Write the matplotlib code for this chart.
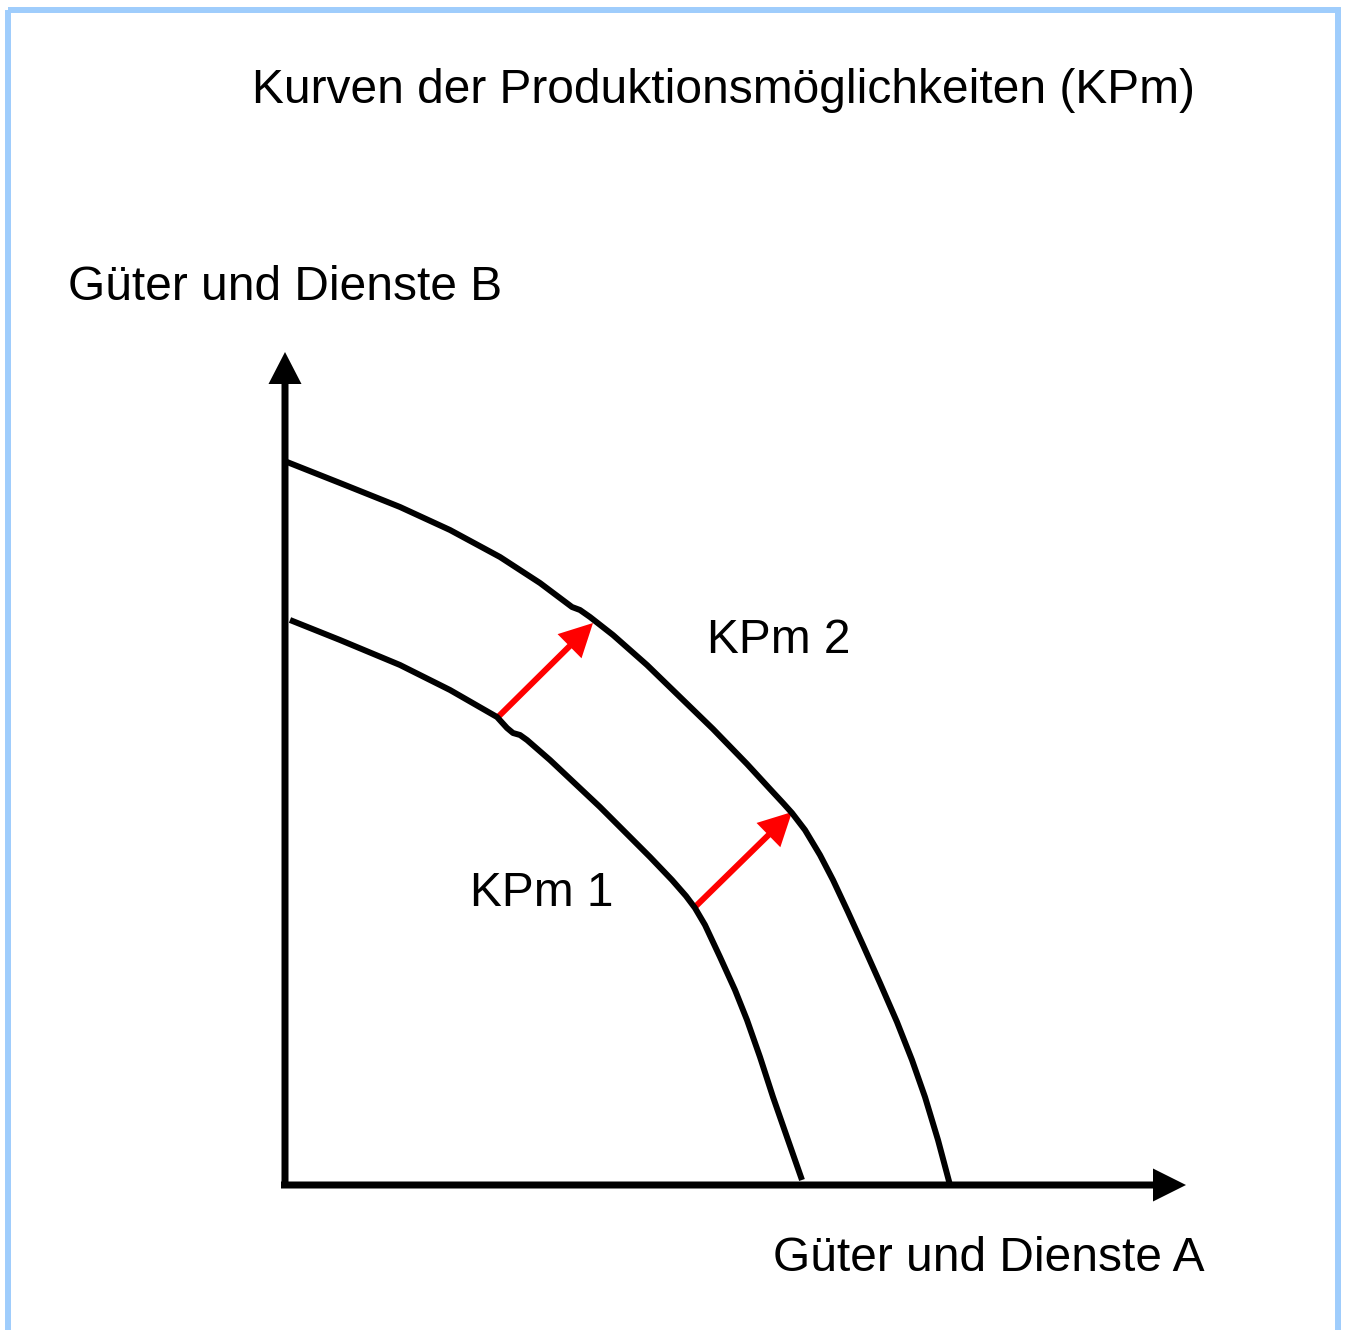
import matplotlib.pyplot as plt
from matplotlib.patches import Rectangle

plt.rcParams['font.family'] = ['Liberation Sans', 'DejaVu Sans']

# canvas in pixel units (y grows downward)
W, H = 1346, 1330

# production possibility curves, traced points
kpm2_x = [287, 340, 400, 450, 500, 540, 560, 572, 580, 590, 613, 647, 680,
          713, 747, 770, 783, 792, 805, 820, 833, 848, 863, 880, 897, 912,
          925, 938, 950]
kpm2_y = [462, 483, 507, 530, 557, 583, 598, 607, 610, 617, 635, 665, 697,
          729, 764, 789, 803, 813, 830, 855, 880, 912, 945, 983, 1022, 1060,
          1097, 1140, 1185]

kpm1_x = [290, 340, 400, 450, 497, 507, 513, 520, 527, 550, 600, 650, 672,
          686, 695, 705, 720, 735, 747, 760, 773, 788, 802]
kpm1_y = [620, 640, 665, 690, 717, 728, 733, 735, 740, 760, 807, 857, 880,
          896, 908, 925, 957, 990, 1020, 1057, 1097, 1140, 1180]

# shift arrows: (start, end)
shift_arrows = [((497, 718), (593, 623)),
                ((695, 907), (792, 812))]

origin = (285, 1185)
y_axis_top = 352
x_axis_end = 1186

title = 'Kurven der Produktionsmöglichkeiten (KPm)'
ylabel = 'Güter und Dienste B'
xlabel = 'Güter und Dienste A'
curve_labels = [('KPm 2', 707, 653), ('KPm 1', 470, 906)]

fig = plt.figure(figsize=(W / 100, H / 100), dpi=100)
ax = fig.add_axes([0, 0, 1, 1])
ax.set_xlim(0, W)
ax.set_ylim(H, 0)
ax.axis('off')

# light blue frame
ax.add_patch(Rectangle((8, 10), 1330, 1340, fill=False,
                       edgecolor='#9fcdfc', linewidth=4.3))

# axes with arrow heads
x0, y0 = origin
ax.arrow(x0, y0 + 3, 0, y_axis_top - y0 - 3, width=7, head_width=33,
         head_length=32, length_includes_head=True, color='black', lw=0)
ax.arrow(x0 - 4, y0, x_axis_end - x0 + 4, 0, width=7, head_width=33,
         head_length=33, length_includes_head=True, color='black', lw=0)

ax.plot(kpm2_x, kpm2_y, color='black', lw=4.3, solid_capstyle='butt',
        solid_joinstyle='round')
ax.plot(kpm1_x, kpm1_y, color='black', lw=4.3, solid_capstyle='butt',
        solid_joinstyle='round')

for (sx, sy), (ex, ey) in shift_arrows:
    ax.arrow(sx, sy, ex - sx, ey - sy, width=6, head_width=34,
             head_length=33, length_includes_head=True, color='#ff0000', lw=0)

fs = 34.5
ax.text(252, 103, title, fontsize=fs, ha='left', va='baseline')
ax.text(68, 300, ylabel, fontsize=fs, ha='left', va='baseline')
ax.text(773, 1271, xlabel, fontsize=fs, ha='left', va='baseline')
for txt, tx, ty in curve_labels:
    ax.text(tx, ty, txt, fontsize=fs, ha='left', va='baseline')

fig.savefig('out.png', dpi=100)
